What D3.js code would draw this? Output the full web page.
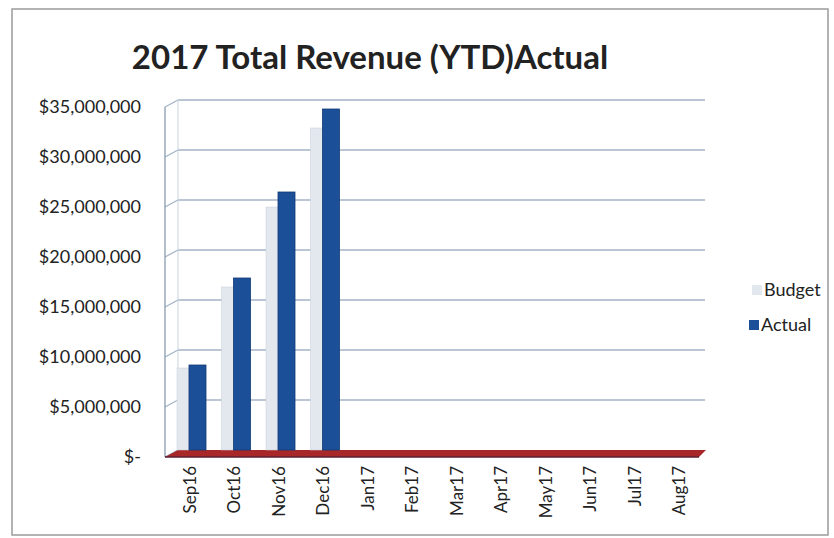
<!DOCTYPE html>
<html>
<head>
<meta charset="utf-8">
<script src="https://cdn.jsdelivr.net/npm/d3@7"></script>
<style>
  body { margin: 0; background: #fff; }
  text { font-family: Lato, "Open Sans", sans-serif; fill: #222; }
</style>
</head>
<body>
<div id="chart"></div>
<script>
var months = ["Sep16", "Oct16", "Nov16", "Dec16", "Jan17", "Feb17", "Mar17", "Apr17", "May17", "Jun17", "Jul17", "Aug17"];
var budget = [8200000, 16300000, 24300000, 32200000, 0, 0, 0, 0, 0, 0, 0, 0];
var actual = [8500000, 17200000, 25800000, 34100000, 0, 0, 0, 0, 0, 0, 0, 0];
var yTicks = [0, 5000000, 10000000, 15000000, 20000000, 25000000, 30000000, 35000000];
var seriesNames = ["Budget", "Actual"];
var seriesColors = ["#e3e7ee", "#1b4f98"];

var svgWidth = 834;
var svgHeight = 538;

var svg = d3.select("#chart")
  .append("svg")
  .attr("width", svgWidth)
  .attr("height", svgHeight);

// outer border
svg.append("rect")
  .attr("x", 12).attr("y", 9)
  .attr("width", 816).attr("height", 526)
  .attr("fill", "none")
  .attr("stroke", "#9a9a9a")
  .attr("stroke-width", 1.5);

// title
svg.append("text")
  .attr("x", 370)
  .attr("y", 69)
  .attr("text-anchor", "middle")
  .style("font-size", "33px")
  .style("font-weight", "bold")
  .text("2017 Total Revenue (YTD)Actual");

var depth = 13, drop = 7;

var x = d3.scaleBand()
  .domain(months)
  .range([172, 706]);

var y = d3.scaleLinear()
  .domain([0, 35000000])
  .range([450, 100]);

// gridlines with left wall segment
var grid = svg.append("g");
yTicks.forEach(function(t) {
  if (t > 0) {
    grid.append("line")
      .attr("x1", 178).attr("x2", 705)
      .attr("y1", y(t)).attr("y2", y(t))
      .attr("stroke", "#a3b3c6").attr("stroke-width", 1.3);
  }
  grid.append("line")
    .attr("x1", 165).attr("x2", 178)
    .attr("y1", y(t) + drop).attr("y2", y(t))
    .attr("stroke", "#a3b3c6").attr("stroke-width", 1.3);
});

// left wall axis line
svg.append("line")
  .attr("x1", 165).attr("x2", 165)
  .attr("y1", y(35000000) + drop).attr("y2", y(0) + drop)
  .attr("stroke", "#8a9bb0").attr("stroke-width", 1.3);
svg.append("line")
  .attr("x1", 178).attr("x2", 178)
  .attr("y1", y(35000000)).attr("y2", y(0))
  .attr("stroke", "#c9d3de").attr("stroke-width", 1);

// floor
svg.append("polygon")
  .attr("points", [[165, y(0) + drop], [178, y(0)], [706, y(0)], [699, y(0) + drop]].join(" "))
  .attr("fill", "#a8282a");
svg.append("line")
  .attr("x1", 165).attr("x2", 699)
  .attr("y1", y(0) + drop).attr("y2", y(0) + drop)
  .attr("stroke", "#5a2030").attr("stroke-width", 1.5);

// y labels
svg.append("g").selectAll("text")
  .data(yTicks)
  .enter()
  .append("text")
  .attr("x", 141)
  .attr("y", d => y(d) + drop)
  .attr("dy", "0.35em")
  .attr("text-anchor", "end")
  .style("font-size", "18px")
  .text(d => d === 0 ? "$-" : d3.format("$,")(d));

// bars
var bars = svg.append("g");
bars.selectAll(".budget")
  .data(budget)
  .enter()
  .append("rect")
  .attr("class", "budget")
  .attr("x", (d, i) => x(months[i]) + 5)
  .attr("y", d => y(d))
  .attr("width", 12)
  .attr("height", d => y(0) - y(d))
  .attr("fill", seriesColors[0])
  .attr("stroke", "#c8ceda").attr("stroke-width", 0.5);

bars.selectAll(".actual")
  .data(actual)
  .enter()
  .append("rect")
  .attr("class", "actual")
  .attr("x", (d, i) => x(months[i]) + 17)
  .attr("y", d => y(d))
  .attr("width", 17)
  .attr("height", d => y(0) - y(d))
  .attr("fill", seriesColors[1])
  .attr("stroke", "#123a75").attr("stroke-width", 0.8);

// x labels
svg.append("g").selectAll("text")
  .data(months)
  .enter()
  .append("text")
  .attr("transform", d => `translate(${x(d) + 18}, 466) rotate(-90)`)
  .attr("text-anchor", "end")
  .attr("dy", "0.35em")
  .style("font-size", "17px")
  .text(d => d);

// legend
var legend = svg.append("g");
var legendPos = [[752, 290], [749, 325]];
seriesNames.forEach(function(name, i) {
  legend.append("rect")
    .attr("x", legendPos[i][0])
    .attr("y", legendPos[i][1] - 5)
    .attr("width", 10).attr("height", 10)
    .attr("fill", seriesColors[i]);
  legend.append("text")
    .attr("x", legendPos[i][0] + 12)
    .attr("y", legendPos[i][1])
    .attr("dy", "0.35em")
    .style("font-size", "18px")
    .text(name);
});
</script>
</body>
</html>
